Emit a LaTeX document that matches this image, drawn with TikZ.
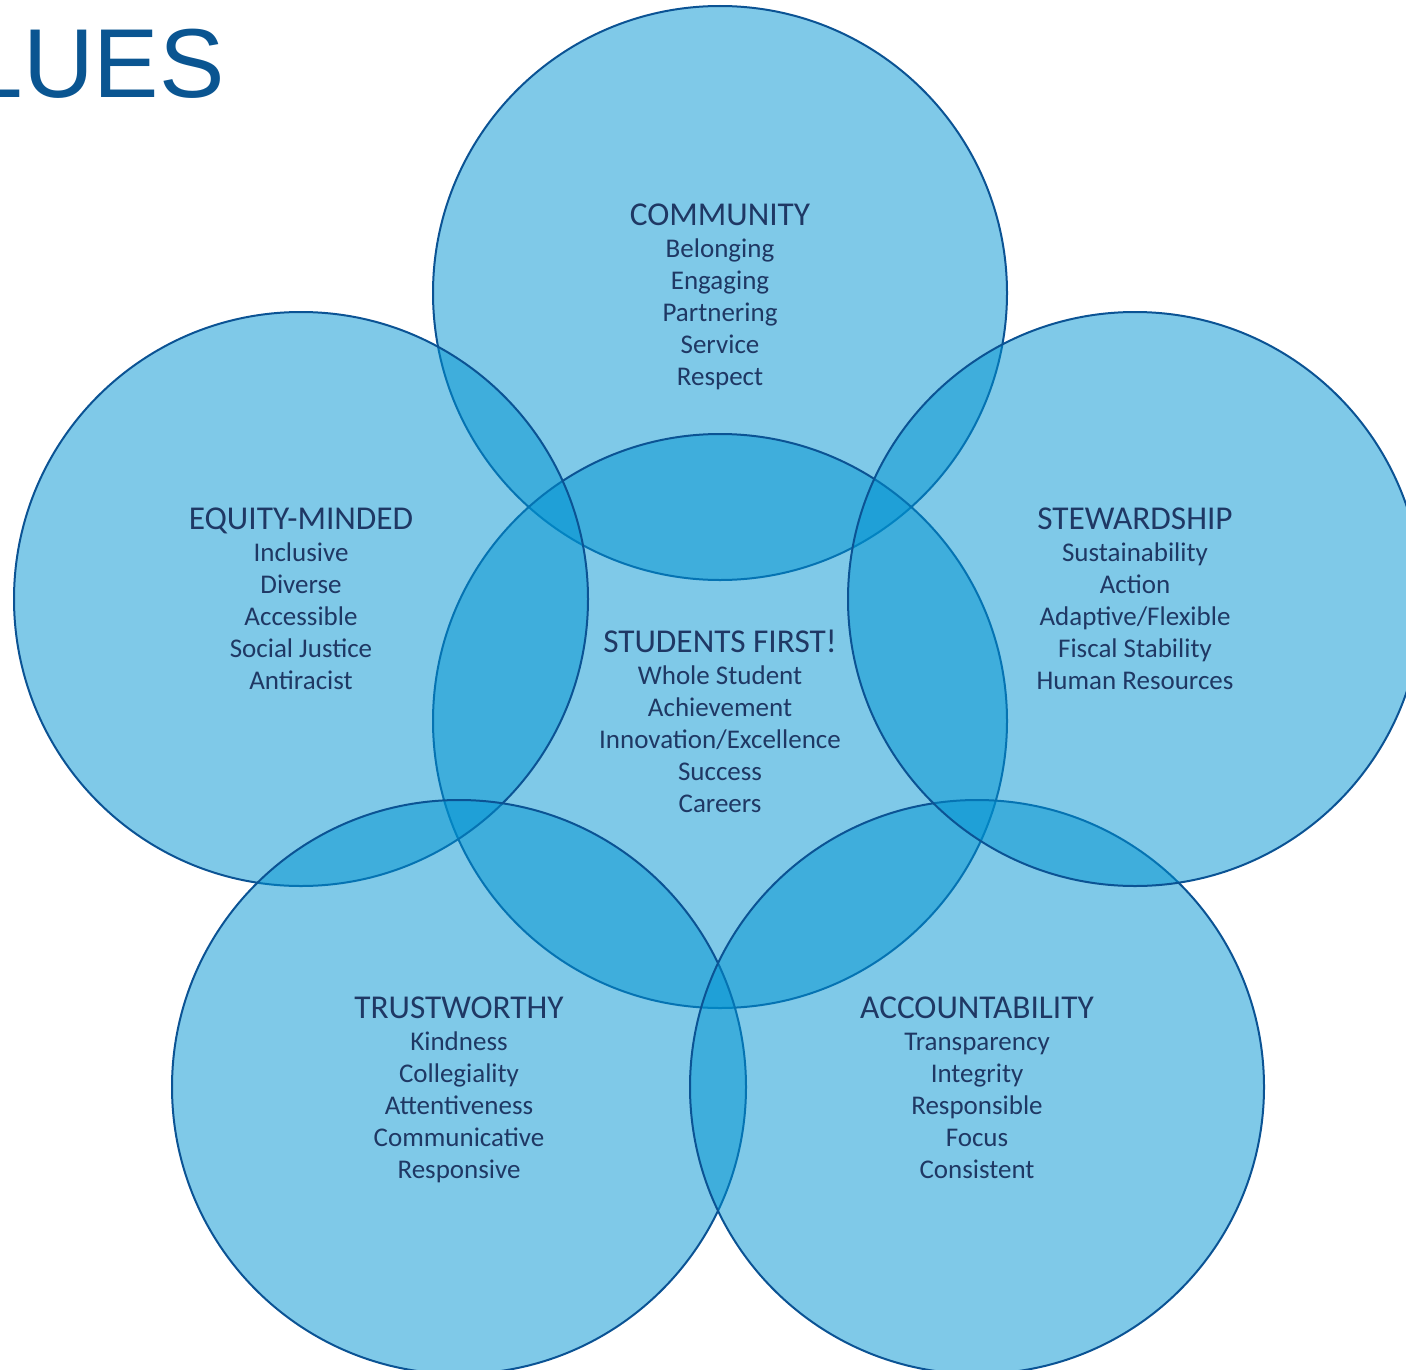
\documentclass[tikz,border=0pt]{standalone}
\usepackage{fontspec}
\setmainfont{Carlito}
\newfontfamily\titlefont{Liberation Sans}
\definecolor{ringblue}{HTML}{0B5394}
\definecolor{fillblue}{HTML}{0093D1}
\definecolor{textblue}{HTML}{1F3864}
\definecolor{titleblue}{HTML}{0A5591}
\newcommand{\hd}[1]{{\fontsize{25}{28}\selectfont #1}\\}
\begin{document}
\begin{tikzpicture}[x=0.75pt,y=-0.75pt,
  venn/.style={circle, draw=ringblue, line width=1.5pt, fill=fillblue, fill opacity=0.5, draw opacity=1, minimum size=430.5pt, inner sep=0pt},
  lbl/.style={text=textblue, inner sep=0pt, anchor=base, font=\fontsize{20.25}{24}\selectfont}]
\useasboundingbox (0,0) rectangle (1406,1370);
\clip (0,0) rectangle (1406,1370);
% circles
\node[venn] (community) at (720,293) {};
\node[venn] (students) at (720,721) {};
\node[venn] (equity) at (301,599) {};
\node[venn] (trust) at (459,1087) {};
\node[venn] (account) at (977,1087) {};
\node[venn] (steward) at (1135,599) {};
% title
\node[text=titleblue, inner sep=0pt, anchor=base east, font=\titlefont\fontsize{73.5}{80}\selectfont] (title) at (225,98) {LUES};
% texts
\node[lbl] (tcommunity) at (720,225) {\begin{tabular}[t]{@{}c@{}}\hd{COMMUNITY}Belonging\\Engaging\\Partnering\\Service\\Respect\end{tabular}};
\node[lbl] (tequity) at (301,529) {\begin{tabular}[t]{@{}c@{}}\hd{EQUITY-MINDED}Inclusive\\Diverse\\Accessible\\Social Justice\\Antiracist\end{tabular}};
\node[lbl] (tsteward) at (1135,529) {\begin{tabular}[t]{@{}c@{}}\hd{STEWARDSHIP}Sustainability\\Action\\Adaptive/Flexible\\Fiscal Stability\\Human Resources\end{tabular}};
\node[lbl] (tstudents) at (720,652) {\begin{tabular}[t]{@{}c@{}}\hd{STUDENTS FIRST!}Whole Student\\Achievement\\Innovation/Excellence\\Success\\Careers\end{tabular}};
\node[lbl] (ttrust) at (459,1018) {\begin{tabular}[t]{@{}c@{}}\hd{TRUSTWORTHY}Kindness\\Collegiality\\Attentiveness\\Communicative\\Responsive\end{tabular}};
\node[lbl] (taccount) at (977,1018) {\begin{tabular}[t]{@{}c@{}}\hd{ACCOUNTABILITY}Transparency\\Integrity\\Responsible\\Focus\\Consistent\end{tabular}};
\end{tikzpicture}
\end{document}
